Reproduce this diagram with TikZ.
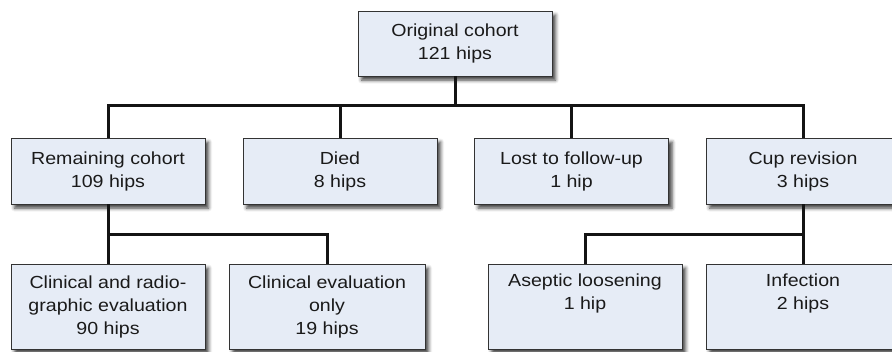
\documentclass[tikz,border=0pt]{standalone}
\usepackage{fontspec}
\setmainfont[FakeStretch=1.12]{Liberation Sans}
\usetikzlibrary{shadows.blur}
\definecolor{boxfill}{HTML}{E6ECF6}
\definecolor{boxline}{HTML}{333333}
\definecolor{txt}{HTML}{1A1A1A}
\begin{document}
\begin{tikzpicture}[x=1pt,y=-1pt,
  box/.style={draw=boxline, line width=0.9pt, fill=boxfill, text=txt, align=center,
    font=\fontsize{17.5}{23}\selectfont, minimum width=194pt, inner sep=0pt,
    blur shadow={shadow xshift=3.5pt, shadow yshift=-4pt, shadow blur radius=3.5pt, shadow opacity=75}},
  conn/.style={line width=3pt, draw=black!92}]
\useasboundingbox (0,0) rectangle (892,351);
\clip (0,0) rectangle (892,351);
% level 1
\node[box, minimum height=65pt] (top) at (455,43.5) {Original cohort\\121 hips};
% level 2
\node[box, minimum height=66pt] (rem)  at (108,171)   {Remaining cohort\\109 hips};
\node[box, minimum height=66pt] (died) at (340,171)   {Died\\8 hips};
\node[box, minimum height=66pt] (lost) at (571.5,171) {Lost to follow-up\\1 hip};
\node[box, minimum height=66pt] (cup)  at (803,171)   {Cup revision\\3 hips};
% level 3
\node[box, minimum height=85pt] (cr)  at (108,306.5) {Clinical and radio-\\graphic evaluation\\90 hips};
\node[box, minimum height=85pt, minimum width=196pt] (ce) at (327,306.5) {Clinical evaluation\\only\\19 hips};
\node[box, minimum height=85pt] (ase) at (585,306.5) {Aseptic loosening\\1 hip\\\strut};
\node[box, minimum height=85pt] (inf) at (803,306.5) {Infection\\2 hips\\\strut};
% connectors
\coordinate (bus1) at (455,105);
\coordinate (bus2) at (455,234);
\draw[conn] (top.south) -- (bus1);
\draw[conn] (rem.north) |- (bus1) -| (cup.north);
\draw[conn] (died.north) -- (died.north |- bus1);
\draw[conn] (lost.north) -- (lost.north |- bus1);
\draw[conn] (rem.south) -- (cr.north);
\draw[conn] (cr.north |- bus2) -| (ce.north);
\draw[conn] (cup.south) -- (inf.north);
\draw[conn] (inf.north |- bus2) -| (ase.north);
\end{tikzpicture}
\end{document}
